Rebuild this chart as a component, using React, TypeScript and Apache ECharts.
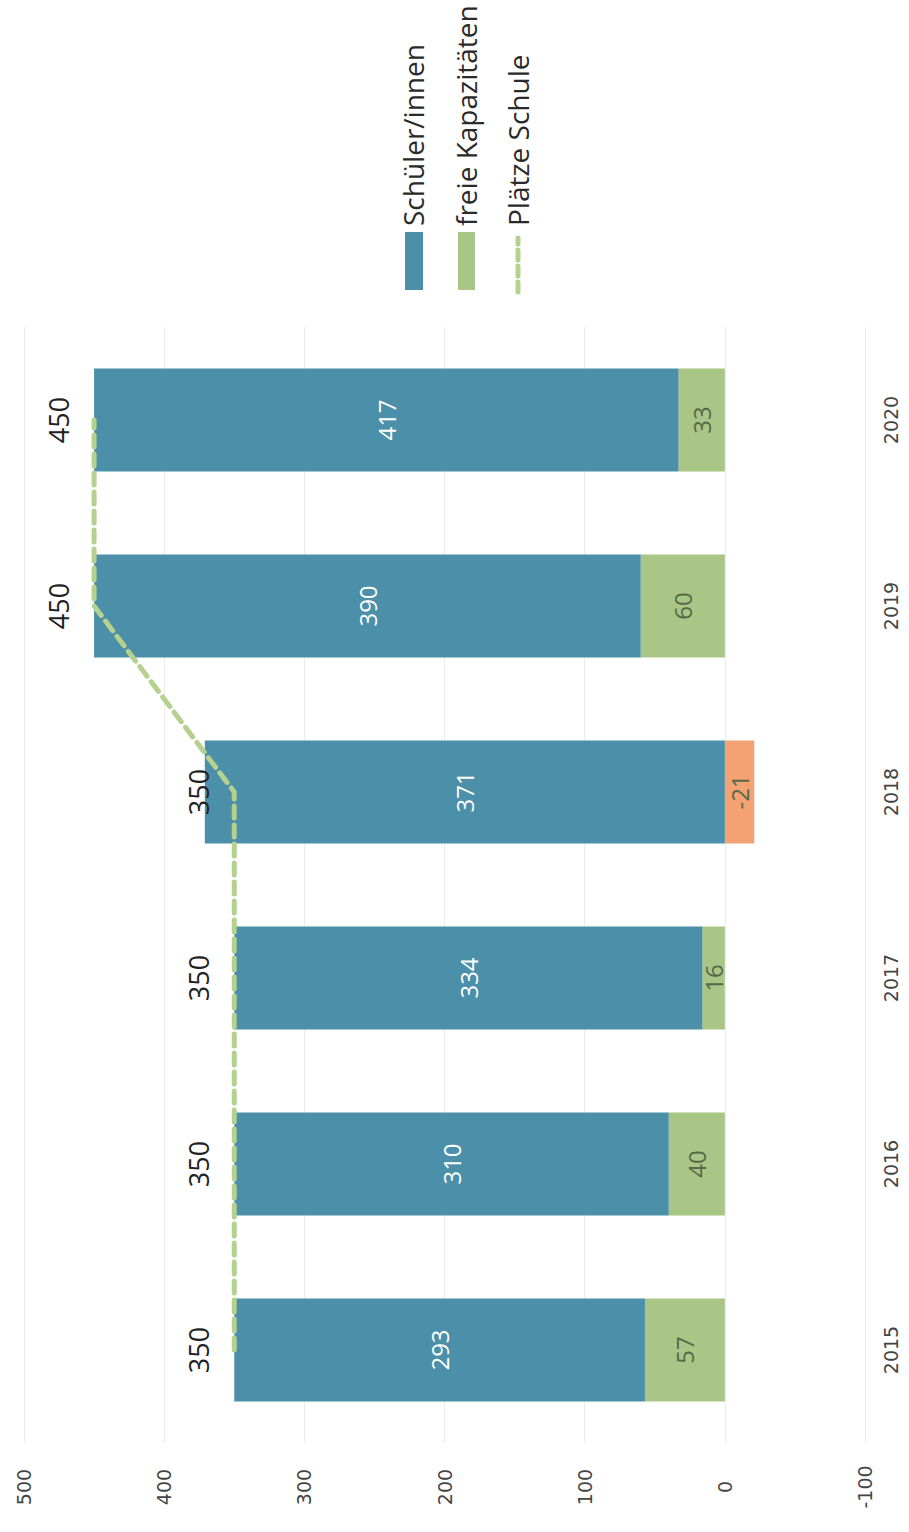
import React, { useEffect, useRef } from "react";
import * as echarts from "echarts";

const years = ["2015", "2016", "2017", "2018", "2019", "2020"];
const schueler = [293, 310, 334, 371, 390, 417];
const freieKapazitaeten = [57, 40, 16, -21, 60, 33];
const plaetzeSchule = [350, 350, 350, 350, 450, 450];
const valueTicks = { min: -100, max: 500, interval: 100 };

const BLUE = "#4b8fa8";
const GREEN = "#a9c686";
const ORANGE = "#f4a273";
const LINE_GREEN = "#b5d190";
const FONT = "'Open Sans', 'Noto Sans', sans-serif";
const AXIS_FONT = "'DejaVu Sans', sans-serif";

export default function App() {
  const ref = useRef<HTMLDivElement>(null);
  useEffect(() => {
    document.body.style.margin = "0";
    if (!ref.current) return;
    const chart = echarts.init(ref.current, undefined, { renderer: "svg" });
    const legendY = 226;
    chart.setOption({
      animation: false,
      backgroundColor: "#ffffff",
      grid: { left: 24, right: 44, top: 327, bottom: 89, containLabel: false },
      xAxis: {
        type: "value",
        inverse: true,
        min: valueTicks.min,
        max: valueTicks.max,
        interval: valueTicks.interval,
        position: "bottom",
        axisLine: { show: false },
        axisTick: { show: false },
        splitLine: { show: true, lineStyle: { color: "#ececec", width: 1 } },
        axisLabel: {
          rotate: 90,
          align: "center",
          verticalAlign: "middle",
          margin: 44,
          fontSize: 19,
          color: "#444",
          fontFamily: AXIS_FONT,
        },
      },
      yAxis: {
        type: "category",
        data: years,
        position: "right",
        axisLine: { show: false, onZero: false },
        axisTick: { show: false },
        splitLine: { show: false },
        axisLabel: {
          rotate: 90,
          align: "center",
          verticalAlign: "middle",
          margin: 26,
          fontSize: 19,
          color: "#444",
          fontFamily: AXIS_FONT,
        },
      },
      series: [
        {
          name: "freie Kapazitäten",
          type: "bar",
          stack: "total",
          barWidth: 103,
          data: freieKapazitaeten.map((v) =>
            v < 0 ? { value: v, itemStyle: { color: ORANGE } } : v
          ),
          itemStyle: { color: GREEN },
          label: {
            show: true,
            position: "inside",
            rotate: 90,
            fontSize: 24,
            color: "#56684a",
            fontFamily: FONT,
          },
        },
        {
          name: "Schüler/innen",
          type: "bar",
          stack: "total",
          barWidth: 103,
          data: schueler,
          itemStyle: { color: BLUE },
          label: {
            show: true,
            position: "inside",
            rotate: 90,
            fontSize: 24,
            color: "#ffffff",
            fontFamily: FONT,
          },
        },
        {
          name: "Plätze Schule",
          type: "line",
          data: plaetzeSchule,
          symbol: "circle",
          symbolSize: 2,
          showSymbol: true,
          itemStyle: { color: "rgba(0,0,0,0)" },
          lineStyle: { color: LINE_GREEN, width: 5, type: [12, 7], cap: "round" },
          z: 5,
          label: {
            show: true,
            position: "left",
            distance: 35,
            rotate: 90,
            align: "center",
            verticalAlign: "middle",
            fontSize: 27,
            color: "#222",
            fontFamily: FONT,
          },
        },
      ],
      graphic: [
        { type: "rect", shape: { x: 405, y: 232, width: 18, height: 58 }, style: { fill: BLUE } },
        {
          type: "text",
          x: 413,
          y: legendY,
          rotation: Math.PI / 2,
          style: { text: "Schüler/innen", fill: "#2a2a2a", fontSize: 28, fontFamily: FONT, align: "left", verticalAlign: "middle" },
        },
        { type: "rect", shape: { x: 458, y: 232, width: 17, height: 58 }, style: { fill: GREEN } },
        {
          type: "text",
          x: 466,
          y: legendY,
          rotation: Math.PI / 2,
          style: { text: "freie Kapazitäten", fill: "#2a2a2a", fontSize: 28, fontFamily: FONT, align: "left", verticalAlign: "middle" },
        },
        {
          type: "line",
          shape: { x1: 518, y1: 292, x2: 518, y2: 238 },
          style: { stroke: LINE_GREEN, lineWidth: 5, lineDash: [10, 6], lineCap: "round" },
        },
        {
          type: "text",
          x: 518,
          y: legendY,
          rotation: Math.PI / 2,
          style: { text: "Plätze Schule", fill: "#2a2a2a", fontSize: 28, fontFamily: FONT, align: "left", verticalAlign: "middle" },
        },
      ],
    });
    return () => chart.dispose();
  }, []);
  return <div ref={ref} style={{ width: 909, height: 1532 }} />;
}
